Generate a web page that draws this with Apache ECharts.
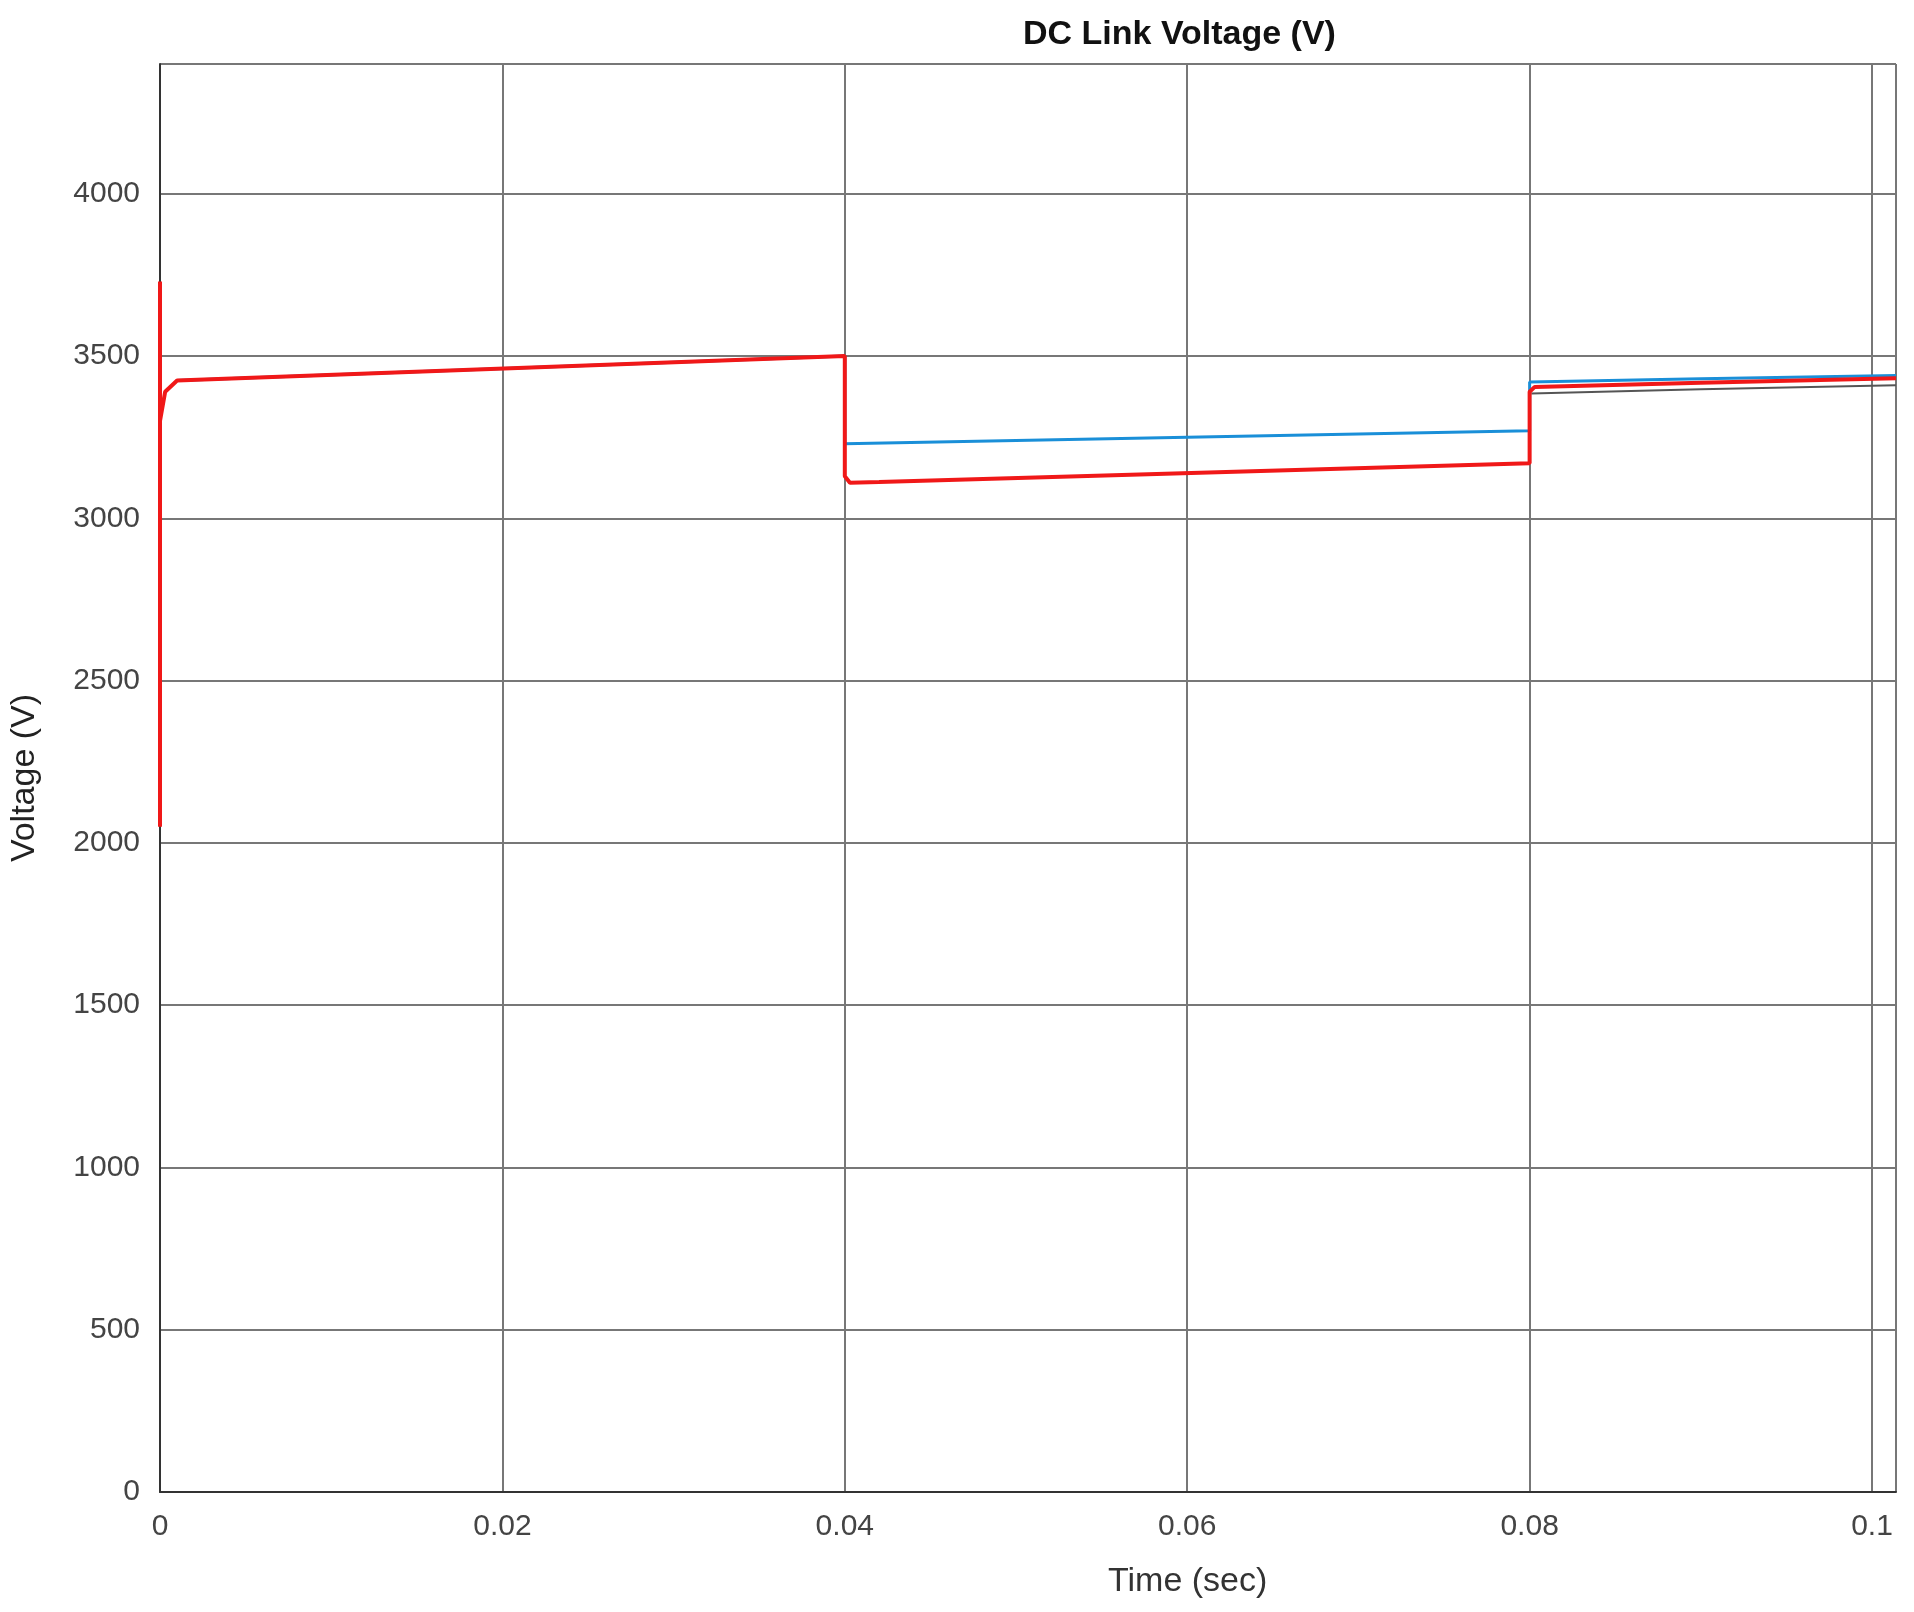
<!DOCTYPE html><html><head><meta charset="utf-8"><script src="https://cdn.jsdelivr.net/npm/echarts@6/dist/echarts.min.js"></script>
<style>html,body{margin:0;background:#fff}#c{width:1914px;height:1612px}</style></head><body><div id="c"></div><script>
const redData=[[0,2050],[0,3730],[0,3300],[0.0003,3390],[0.001,3425],[0.04,3500],[0.04,3130],[0.0403,3110],[0.042,3112],[0.08,3170],[0.08,3390],[0.0803,3405],[0.09,3418],[0.1014,3432]];
const blueData=[[0.001,3425],[0.04,3500],[0.04,3230],[0.06,3250],[0.08,3270],[0.08,3420],[0.09,3430],[0.1014,3440]];
const grayData=[[0.0801,3385],[0.09,3398],[0.1014,3410]];
const ff='Liberation Sans';
const ch=echarts.init(document.getElementById('c'));
ch.setOption({animation:false,
title:{text:'DC Link Voltage (V)',left:1018,top:13,textStyle:{fontFamily:ff,fontSize:34,fontWeight:'bold',color:'#111'}},
grid:{left:157,right:18,top:64,bottom:120},
xAxis:{type:'value',min:0,max:0.1014,interval:0.02,
axisLine:{lineStyle:{color:'#333',width:2}},axisTick:{show:false},
axisLabel:{fontFamily:ff,fontSize:30,color:'#444',margin:20,showMaxLabel:false,formatter:v=>v===0?'0':String(+v.toFixed(2))},
splitLine:{lineStyle:{color:'#777',width:2}}},
yAxis:{type:'value',min:0,max:4400,interval:500,name:'Voltage (V)',nameLocation:'middle',nameGap:118,nameTextStyle:{fontFamily:ff,fontSize:34,color:'#222'},
axisLine:{show:true,lineStyle:{color:'#333',width:2}},axisTick:{show:false},
axisLabel:{fontFamily:ff,fontSize:30,color:'#444',margin:20,formatter:v=>v>4000?'':v},
splitLine:{lineStyle:{color:'#777',width:2}}},
graphic:[{type:'text',left:1108,top:1565,style:{text:'Time (sec)',font:'34px Liberation Sans',fill:'#333'}}],
series:[
{type:'line',data:grayData,symbol:'none',lineStyle:{color:'#555',width:2}},
{type:'line',data:blueData,symbol:'none',lineStyle:{color:'#1a8fd8',width:3}},
{type:'line',data:redData,symbol:'none',lineStyle:{color:'#f01818',width:4}}]});
</script></body></html>
